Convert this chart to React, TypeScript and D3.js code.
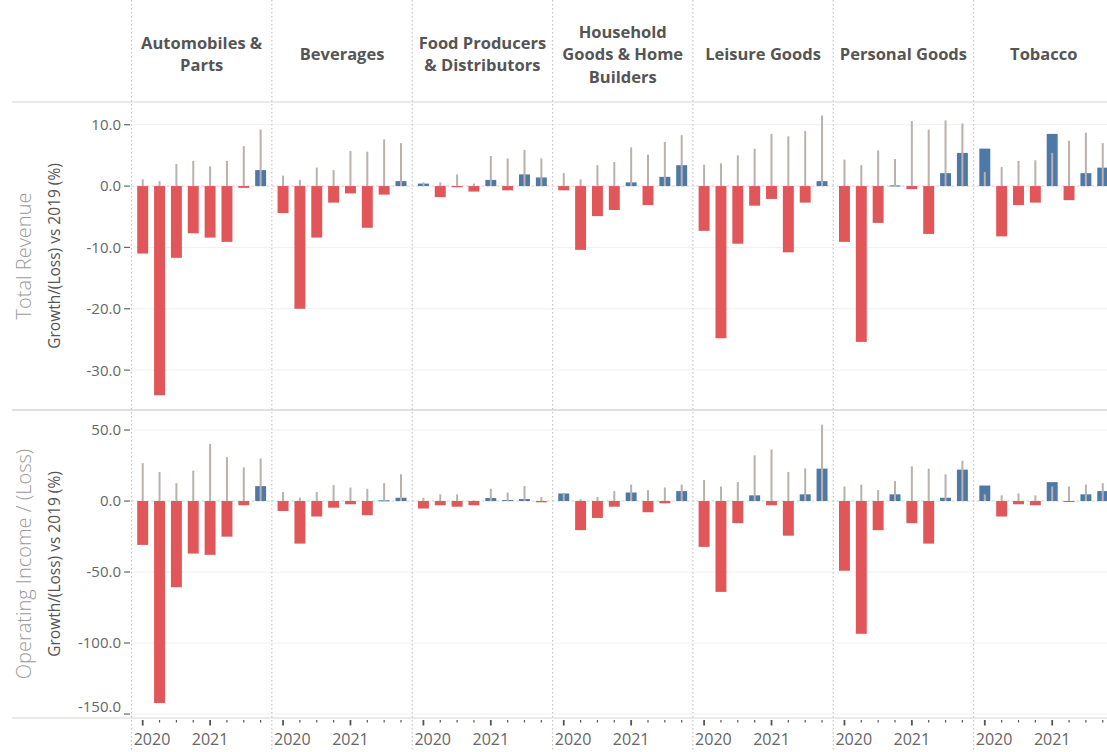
import React from "react";
import * as d3 from "d3";

// ---------- data ----------
const sectors = [
  "Automobiles & Parts",
  "Beverages",
  "Food Producers & Distributors",
  "Household Goods & Home Builders",
  "Leisure Goods",
  "Personal Goods",
  "Tobacco",
];
const headerLines = [
  ["Automobiles &", "Parts"],
  ["Beverages"],
  ["Food Producers", "& Distributors"],
  ["Household", "Goods & Home", "Builders"],
  ["Leisure Goods"],
  ["Personal Goods"],
  ["Tobacco"],
];
const quarters = ["2020 Q1", "2020 Q2", "2020 Q3", "2020 Q4", "2021 Q1", "2021 Q2", "2021 Q3", "2021 Q4"];
const yearLabels = [
  { quarter: "2020 Q1", label: "2020" },
  { quarter: "2021 Q1", label: "2021" },
];

// Total revenue growth/(loss) vs 2019 (%) – bars
const revenueGrowth = [
  [-11.0, -34.1, -11.7, -7.7, -8.4, -9.1, -0.3, 2.6],
  [-4.4, -20.0, -8.4, -2.7, -1.2, -6.8, -1.4, 0.8],
  [0.4, -1.8, -0.2, -0.9, 1.0, -0.7, 1.9, 1.4],
  [-0.7, -10.4, -4.9, -3.9, 0.6, -3.1, 1.5, 3.4],
  [-7.3, -24.8, -9.4, -3.2, -2.1, -10.8, -2.7, 0.8],
  [-9.1, -25.4, -6.0, 0.1, -0.5, -7.8, 2.1, 5.4],
  [6.1, -8.2, -3.1, -2.7, 8.5, -2.3, 2.1, 3.0],
];
// Total revenue – grey reference marks
const revenueRef = [
  [1.1, 0.8, 3.6, 4.1, 3.2, 4.1, 6.5, 9.2],
  [1.7, 1.0, 3.0, 2.6, 5.7, 5.6, 7.6, 7.0],
  [0.6, 0.6, 1.9, 0.4, 4.9, 4.5, 5.9, 4.5],
  [2.1, 1.1, 3.4, 3.9, 6.3, 5.1, 7.2, 8.3],
  [3.5, 3.7, 5.0, 6.1, 8.5, 8.1, 9.0, 11.5],
  [4.3, 3.4, 5.8, 4.4, 10.6, 9.2, 10.7, 10.2],
  [2.3, 3.1, 4.1, 4.2, 5.4, 7.4, 8.7, 7.0],
];
// Operating income growth/(loss) vs 2019 (%) – bars
const opIncomeGrowth = [
  [-30.9, -142.3, -60.7, -37.0, -37.9, -25.1, -3.0, 10.5],
  [-7.0, -30.0, -10.9, -4.7, -2.3, -10.0, 0.5, 2.3],
  [-5.3, -3.0, -4.0, -3.0, 2.1, 0.7, 1.4, -0.9],
  [5.3, -20.5, -11.9, -4.0, 6.0, -7.9, -1.6, 7.0],
  [-32.3, -64.0, -15.6, 4.0, -3.0, -24.4, 4.7, 22.8],
  [-49.1, -93.5, -20.5, 4.7, -15.6, -30.0, 2.3, 22.1],
  [10.9, -10.9, -2.3, -3.0, 13.3, -0.7, 4.7, 7.0],
];
// Operating income – grey reference marks
const opIncomeRef = [
  [26.7, 20.5, 12.6, 21.4, 40.2, 30.9, 23.7, 30.0],
  [6.3, 2.3, 6.3, 11.2, 9.5, 8.6, 12.6, 18.8],
  [2.3, 4.7, 4.7, 0.5, 8.6, 6.0, 10.5, 2.8],
  [5.8, 1.2, 2.8, 7.0, 11.6, 7.7, 9.5, 11.6],
  [14.9, 10.2, 13.3, 32.1, 36.3, 20.5, 23.0, 53.7],
  [10.2, 11.6, 7.7, 14.0, 24.4, 22.8, 18.8, 28.4],
  [4.7, 4.0, 5.3, 4.0, 10.2, 10.2, 11.6, 12.6],
];
const revenueTicks = [10, 0, -10, -20, -30];
const opIncomeTicks = [50, 0, -50, -100, -150];

// ---------- style ----------
const W = 1107;
const H = 752;
const RED = "#e15759";
const BLUE = "#4e79a7";
const GREY = "#bab0ac";
const FONT = "'Open Sans', 'DejaVu Sans', sans-serif";

const paneLeft = 131.5;
const paneW = 140.35;

const rows = [
  {
    top: 102,
    bottom: 410,
    domain: [-36.5, 13.7],
    values: revenueGrowth,
    refs: revenueRef,
    ticks: revenueTicks,
    title: "Total Revenue",
  },
  {
    top: 410,
    bottom: 718,
    domain: [-152.8, 64.1],
    values: opIncomeGrowth,
    refs: opIncomeRef,
    ticks: opIncomeTicks,
    title: "Operating Income / (Loss)",
  },
];

export default function App() {
  const xOuter = d3
    .scaleBand<string>()
    .domain(sectors)
    .range([paneLeft, paneLeft + paneW * sectors.length])
    .padding(0);
  const xInner = d3
    .scaleBand<string>()
    .domain(quarters)
    .range([0, paneW])
    .paddingInner(0.35)
    .paddingOuter(0.34);
  const bw = xInner.bandwidth();

  return (
    <div style={{ position: "absolute", left: 0, top: 0, width: W, height: H, overflow: "hidden", background: "#fff" }}>
      <svg width={W} height={H} style={{ display: "block", fontFamily: FONT }}>
        <rect x={0} y={0} width={W} height={H} fill="#fff" />
        {rows.map((row, ri) => {
          const y = d3.scaleLinear().domain(row.domain).range([row.bottom, row.top]);
          const mid = (row.top + row.bottom) / 2;
          return (
            <g key={"row" + ri}>
              {/* gridlines */}
              {row.ticks.map((t) =>
                t === 0 ? null : (
                  <line key={"g" + t} x1={paneLeft} x2={W} y1={y(t)} y2={y(t)} stroke="#f0f0f0" strokeWidth={1} />
                )
              )}
              {/* zero line */}
              <line x1={paneLeft} x2={W} y1={y(0)} y2={y(0)} stroke="#cfcfcf" strokeWidth={1} strokeDasharray="3,2" />
              {/* bars */}
              {sectors.map((s, si) =>
                quarters.map((q, qi) => {
                  const v = row.values[si][qi];
                  const x = (xOuter(s) as number) + (xInner(q) as number);
                  const y0 = y(0);
                  const y1 = y(v);
                  return (
                    <rect
                      key={s + q}
                      x={x}
                      y={Math.min(y0, y1)}
                      width={bw}
                      height={Math.max(Math.abs(y1 - y0), 1)}
                      fill={v < 0 ? RED : BLUE}
                    />
                  );
                })
              )}
              {/* grey reference marks */}
              {sectors.map((s, si) =>
                quarters.map((q, qi) => {
                  const v = row.refs[si][qi];
                  const cx = (xOuter(s) as number) + (xInner(q) as number) + bw / 2;
                  return (
                    <line key={"r" + s + q} x1={cx} x2={cx} y1={y(0)} y2={y(v)} stroke={GREY} strokeWidth={2} />
                  );
                })
              )}
              {/* y axis ticks */}
              {row.ticks.map((t) => {
                const ty = y(t);
                const ly = Math.min(Math.max(ty, row.top + 10), row.bottom - 11);
                return (
                  <g key={"t" + t}>
                    <line x1={124} x2={130} y1={ty} y2={ty} stroke="#666" strokeWidth={1.2} />
                    <text x={121} y={ly} dy="0.36em" textAnchor="end" fontSize={15} fill="#666">
                      {t.toFixed(1)}
                    </text>
                  </g>
                );
              })}
              {/* axis titles */}
              <text
                transform={`translate(24,${mid}) rotate(-90)`}
                textAnchor="middle"
                dy="0.36em"
                fontSize={20}
                fontWeight={300}
                fill="#9a9a9a"
              >
                {row.title}
              </text>
              <text
                transform={`translate(54,${mid}) rotate(-90)`}
                textAnchor="middle"
                dy="0.36em"
                fontSize={15.5}
                fill="#555"
              >
                Growth/(Loss) vs 2019 (%)
              </text>
            </g>
          );
        })}

        {/* horizontal separators */}
        {[102, 410, 718].map((hy) => (
          <line key={"h" + hy} x1={12} x2={W} y1={hy} y2={hy} stroke="#d6d6d6" strokeWidth={hy === 410 ? 1.6 : 1.2} />
        ))}

        {/* vertical dotted pane separators */}
        {sectors.map((s) => (
          <line
            key={"v" + s}
            x1={xOuter(s) as number}
            x2={xOuter(s) as number}
            y1={0}
            y2={H}
            stroke="#c4c4c4"
            strokeWidth={1.2}
            strokeDasharray="1.5,2.5"
          />
        ))}
        <line
          x1={paneLeft + paneW * sectors.length}
          x2={paneLeft + paneW * sectors.length}
          y1={0}
          y2={H}
          stroke="#c4c4c4"
          strokeWidth={1.2}
          strokeDasharray="1.5,2.5"
        />

        {/* headers */}
        {sectors.map((s, si) => {
          const lines = headerLines[si];
          const cx = (xOuter(s) as number) + paneW / 2;
          return (
            <text key={"hd" + s} textAnchor="middle" fontSize={16.5} fontWeight={700} fill="#555">
              {lines.map((ln, li) => (
                <tspan key={li} x={cx} y={54 + (li - (lines.length - 1) / 2) * 22.5 + 6}>
                  {ln}
                </tspan>
              ))}
            </text>
          );
        })}

        {/* x axis ticks and year labels */}
        {sectors.map((s) => {
          const x0 = xOuter(s) as number;
          return (
            <g key={"xa" + s}>
              {quarters.map((q) => {
                const cx = x0 + (xInner(q) as number) + bw / 2;
                const major = q.endsWith("Q1");
                return (
                  <line
                    key={q}
                    x1={cx}
                    x2={cx}
                    y1={720}
                    y2={major ? 725.5 : 722.5}
                    stroke="#555"
                    strokeWidth={major ? 1.8 : 1.2}
                  />
                );
              })}
              {yearLabels.map((yl) => {
                const cx = x0 + (xInner(yl.quarter) as number) + bw / 2;
                const half = 19;
                const lx = Math.max(cx, x0 + 1.5 + half);
                return (
                  <text key={yl.label} x={lx} y={745} textAnchor="middle" fontSize={16} fill="#666">
                    {yl.label}
                  </text>
                );
              })}
            </g>
          );
        })}
      </svg>
    </div>
  );
}
